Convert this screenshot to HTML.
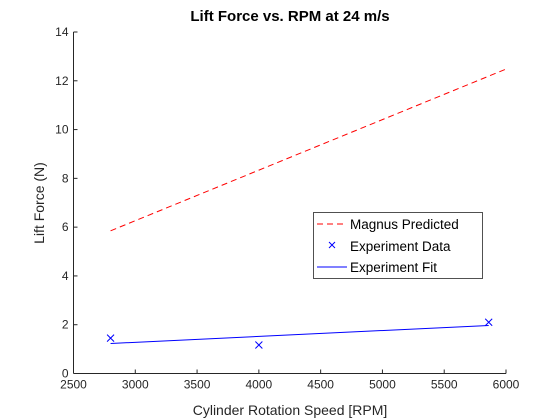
<!DOCTYPE html>
<html><head><meta charset="utf-8"><style>body{margin:0;background:#fff}svg{display:block}text{font-family:"Liberation Sans",Arial,sans-serif}</style></head>
<body>
<svg id="c" width="560" height="420" viewBox="0 0 560 420">
<rect width="560" height="420" fill="#fff"/>
<text x="290" y="21" text-anchor="middle" font-size="15" font-weight="bold" fill="#000">Lift Force vs. RPM at 24 m/s</text>
<g id="axes"></g>
<g id="marks"></g>
<text x="290" y="415" text-anchor="middle" font-size="14" fill="#262626">Cylinder Rotation Speed [RPM]</text>
<text transform="translate(44,203) rotate(-90)" text-anchor="middle" font-size="14" fill="#262626">Lift Force (N)</text>
<g>
<rect x="313.5" y="212.5" width="169" height="66" fill="#fff" stroke="#262626" stroke-width="0.8"/>
<line x1="317" y1="224" x2="343" y2="224" stroke="#f00" stroke-dasharray="6,4"/>
<text x="350" y="229" font-size="13.5" fill="#000">Magnus Predicted</text>
<path d="M329,242L335,248M329,248L335,242" stroke="#00f" fill="none"/>
<text x="350" y="251" font-size="13.5" fill="#000">Experiment Data</text>
<line x1="317" y1="267" x2="347" y2="267" stroke="#00f"/>
<text x="350" y="272" font-size="13.5" fill="#000">Experiment Fit</text>
</g>
</svg>
<script>
const xTicks=[2500,3000,3500,4000,4500,5000,5500,6000];
const yTicks=[0,2,4,6,8,10,12,14];
const magnusX=[2800,6000];
const magnusY=[5.85,12.48];
const dataX=[2800,4000,5860];
const dataY=[1.45,1.17,2.1];
const fitX=[2800,5860];
const fitY=[1.23,1.97];
const L=73.5,R=506,T=32,B=373.5;
const sx=v=>L+(v-2500)/3500*(R-L);
const sy=v=>B-v/14*(B-T);
const NS="http://www.w3.org/2000/svg";
const ax=document.getElementById('axes'),mk=document.getElementById('marks');
function mkEl(t,a,p){const e=document.createElementNS(NS,t);for(const k in a)e.setAttribute(k,a[k]);p.appendChild(e);return e;}
let e=mkEl('line',{x1:L,y1:B,x2:R,y2:B,stroke:'#262626'},ax);


e=mkEl('line',{x1:L,y1:T,x2:L,y2:B,stroke:'#262626'},ax);


xTicks.forEach(v=>{const x=sx(v);
mkEl('line',{x1:x,y1:B,x2:x,y2:B-4,stroke:'#262626'},ax);
const t=mkEl('text',{x:x,y:B+15,'text-anchor':'middle','font-size':'12',fill:'#262626'},ax);t.textContent=v;

});
yTicks.forEach(v=>{const y=sy(v);
mkEl('line',{x1:L,y1:y,x2:L+4,y2:y,stroke:'#262626'},ax);
const t=mkEl('text',{x:L-5,y:y+4,'text-anchor':'end','font-size':'12',fill:'#262626'},ax);t.textContent=v;

});
e=mkEl('polyline',{points:magnusX.map((x,i)=>sx(x)+','+sy(magnusY[i])).join(' '),fill:'none',stroke:'#f00','stroke-dasharray':'6,4'},mk);


e=mkEl('polyline',{points:fitX.map((x,i)=>sx(x)+','+sy(fitY[i])).join(' '),fill:'none',stroke:'#00f'},mk);


dataX.forEach((x,i)=>{const cx=sx(x),cy=sy(dataY[i]),s=3.5;
const p=mkEl('path',{d:`M${cx-s},${cy-s}L${cx+s},${cy+s}M${cx-s},${cy+s}L${cx+s},${cy-s}`,stroke:'#00f',fill:'none'},mk);

});
</script>
</body></html>
